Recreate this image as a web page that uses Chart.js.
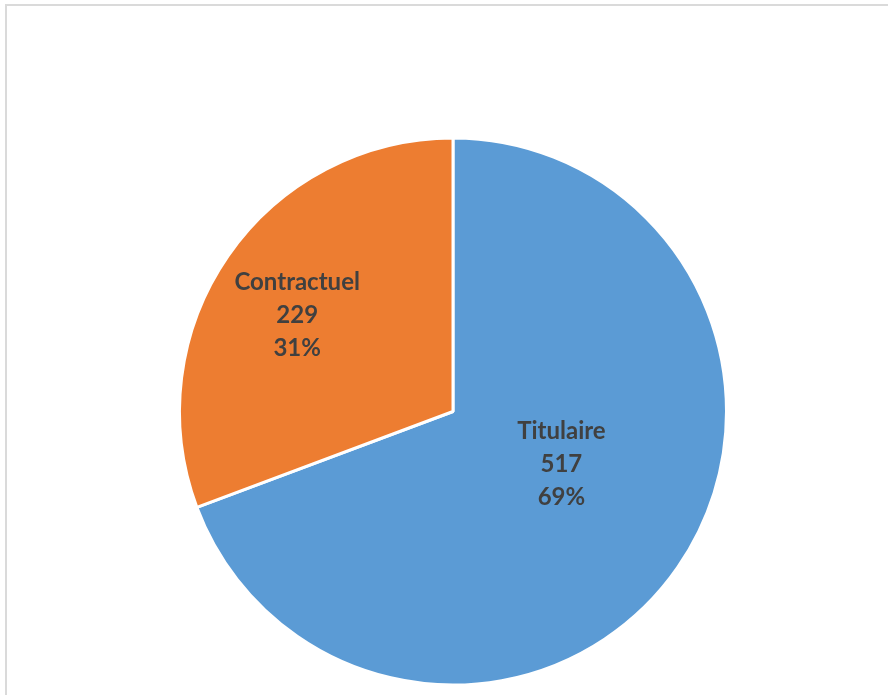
<!DOCTYPE html>
<html>
<head>
<meta charset="utf-8">
<script src="https://cdn.jsdelivr.net/npm/chart.js@4"></script>
<style>
  html, body { margin: 0; padding: 0; background: #fff; }
  #wrap { position: relative; width: 888px; height: 695px; overflow: hidden; }
  #frame { position: absolute; left: 5px; top: 4px; right: -10px; bottom: -10px;
           border-left: 2px solid #dadada; border-top: 2px solid #dadada; }
  canvas { position: absolute; left: 0; top: 0; }
</style>
</head>
<body>
<div id="wrap">
  <div id="frame"></div>
  <canvas id="pie" width="888" height="695"></canvas>
</div>
<script>
// Statut des agents
const categories = ['Titulaire', 'Contractuel'];
const counts = [517, 229];
const percentLabels = ['69%', '31%'];
const sliceColors = ['#5B9BD5', '#ED7D31'];

// where each label sits: fraction of radius + angle shift (deg) from slice middle
const labelPlacement = [
  { r: 0.44, shift: -9 },
  { r: 0.67, shift: -3 }
];

const pieLabels = {
  id: 'pieLabels',
  afterDatasetsDraw(chart) {
    const c = chart.ctx;
    const meta = chart.getDatasetMeta(0);
    c.save();
    c.font = 'bold 24px Lato, "Open Sans", sans-serif';
    c.fillStyle = '#404040';
    c.textAlign = 'center';
    c.textBaseline = 'middle';
    meta.data.forEach((arc, i) => {
      const p = arc.getProps(['x', 'y', 'startAngle', 'endAngle', 'outerRadius']);
      const mid = (p.startAngle + p.endAngle) / 2 + labelPlacement[i].shift * Math.PI / 180;
      const rr = p.outerRadius * labelPlacement[i].r;
      const cx = p.x + Math.cos(mid) * rr;
      const cy = p.y + Math.sin(mid) * rr;
      const lines = [categories[i], String(counts[i]), percentLabels[i]];
      lines.forEach((t, k) => c.fillText(t, cx, cy + (k - 1) * 33));
    });
    c.restore();
  }
};

new Chart(document.getElementById('pie'), {
  type: 'pie',
  data: {
    labels: categories,
    datasets: [{
      data: counts,
      backgroundColor: sliceColors,
      borderColor: '#ffffff',
      borderWidth: 3
    }]
  },
  options: {
    responsive: false,
    animation: false,
    layout: { padding: { left: 178, right: 160, top: 136, bottom: 8 } },
    plugins: {
      legend: { display: false },
      tooltip: { enabled: false }
    }
  },
  plugins: [pieLabels]
});
</script>
</body>
</html>
